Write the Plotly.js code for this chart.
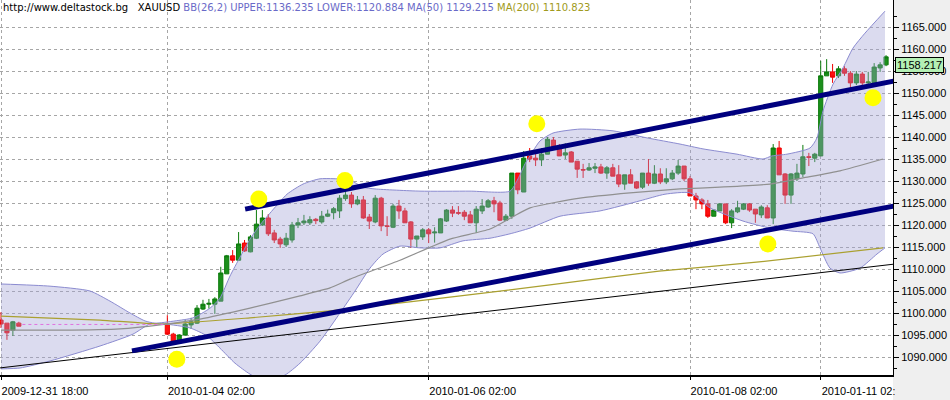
<!DOCTYPE html>
<html>
<head>
<meta charset="utf-8">
<script src="https://cdn.plot.ly/plotly-3.0.1.min.js"></script>
<style>
  html, body { margin: 0; padding: 0; background: #ffffff; }
  #chart { width: 950px; height: 400px; }
</style>
</head>
<body>
<div id="chart"></div>
<script>
// ---------- DATA ----------
// bar index (hourly bars, gaps kept as empty slots)
const barIdx = [0,1,2,3,
  28,29,30,31,32,33,34,35,36,37,
  38,39,40,41,42,43,44,45,46,47,
  48,49,50,51,52,53,54,55,56,57,
  58,59,60,61,62,63,64,65,66,67,
  68,69,70,71,72,73,74,75,76,77,
  78,79,80,81,82,83,84,85,86,87,
  88,89,90,91,92,93,94,95,96,97,
  98,99,100,101,102,103,104,105,106,107,
  108,109,110,111,112,113,114,115,116,117,
  118,119,120,121,122,123,124,125,126,127,
  128,129,130,131,132,133,134,135,136,137,
  138,139,140,141,142,143,144,145,146,147,
  148,149];

const openP = [1098.4,1097.7,1096.1,1097.7,
  1097.5,1095.2,1093.2,1095.0,1097.3,1097.7,1100.9,1102.0,1102.0,1102.7,
  1108.9,1113.0,1112.0,1115.9,1113.9,1117.0,1120.0,1121.6,1118.2,1116.8,
  1115.5,1116.6,1120.0,1120.5,1120.5,1121.3,1120.7,1122.0,1122.8,1123.2,
  1126.0,1126.8,1124.8,1125.7,1121.8,1120.7,1126.1,1119.8,1119.5,1124.3,
  1123.2,1120.7,1116.8,1117.3,1118.9,1118.2,1118.2,1120.9,1123.4,1122.8,
  1122.9,1122.3,1120.5,1123.2,1124.1,1125.5,1125.0,1121.1,1122.0,1131.8,
  1127.5,1135.7,1135.2,1134.8,1136.1,1139.3,1138.0,1135.9,1136.6,1134.5,
  1132.6,1132.5,1132.9,1133.2,1131.8,1133.0,1131.4,1129.3,1131.4,1129.8,
  1128.6,1131.8,1129.5,1131.6,1129.8,1130.5,1131.8,1133.4,1130.5,1126.6,
  1125.7,1124.8,1122.0,1123.2,1124.8,1120.5,1123.0,1123.6,1124.8,1123.6,
  1122.3,1123.9,1121.6,1137.5,1131.6,1126.8,1130.5,1131.6,1135.5,1135.2,
  1135.7,1153.9,1154.8,1153.9,1155.5,1154.5,1152.3,1154.3,1152.3,1152.3,
  1155.7,1156.4];

const highP = [1100.2,1097.7,1098.2,1098.0,
  1099.5,1095.5,1095.2,1098.4,1098.9,1101.8,1103.0,1103.2,1103.6,1110.5,
  1113.2,1114.3,1118.4,1116.6,1117.7,1123.4,1123.4,1122.5,1118.9,1117.3,
  1118.2,1120.7,1121.6,1122.3,1122.0,1121.6,1123.2,1123.5,1124.1,1126.8,
  1127.7,1127.5,1126.6,1126.6,1122.5,1126.8,1126.4,1122.0,1124.8,1125.7,
  1123.9,1120.9,1117.5,1119.3,1119.3,1119.5,1121.6,1123.6,1124.3,1124.3,
  1123.4,1123.2,1124.3,1125.9,1125.9,1126.4,1125.5,1122.5,1131.8,1131.8,
  1136.8,1137.5,1136.8,1137.5,1140.0,1140.0,1138.4,1138.6,1136.8,1134.5,
  1133.9,1134.1,1134.1,1133.9,1133.4,1133.9,1133.6,1131.4,1132.7,1130.0,
  1131.8,1135.0,1133.6,1132.9,1132.9,1132.5,1134.8,1133.4,1131.1,1127.3,
  1126.1,1125.7,1123.6,1125.0,1124.8,1123.6,1125.5,1125.0,1125.0,1123.6,
  1124.5,1124.5,1138.4,1139.1,1131.8,1131.8,1133.9,1138.2,1136.4,1136.4,
  1157.3,1157.7,1156.6,1156.1,1156.1,1155.0,1155.0,1154.8,1154.8,1156.8,
  1157.0,1158.6];

const lowP = [1096.6,1093.9,1094.8,1097.0,
  1095.0,1093.0,1093.0,1094.8,1096.4,1097.5,1100.7,1101.0,1099.8,1102.7,
  1108.9,1111.4,1111.9,1113.9,1113.8,1116.8,1119.8,1117.5,1115.9,1114.8,
  1115.0,1116.0,1119.3,1120.0,1120.0,1120.2,1120.3,1121.8,1121.3,1121.6,
  1125.5,1123.9,1124.5,1121.4,1119.1,1120.4,1118.6,1117.5,1119.3,1121.4,
  1120.5,1114.8,1114.8,1116.6,1115.9,1116.0,1118.2,1120.7,1121.8,1122.3,
  1121.1,1120.5,1118.2,1122.5,1123.9,1122.9,1120.9,1120.9,1121.4,1127.0,
  1127.5,1134.3,1133.4,1133.4,1136.1,1137.5,1135.7,1135.0,1134.3,1130.7,
  1130.7,1132.3,1131.8,1131.6,1130.5,1131.1,1128.6,1128.0,1129.5,1128.2,
  1128.2,1128.9,1129.3,1129.3,1129.3,1130.2,1131.4,1130.0,1126.6,1123.6,
  1123.6,1121.6,1122.0,1123.2,1120.2,1119.3,1122.7,1123.4,1123.0,1120.5,
  1121.6,1121.6,1120.2,1131.4,1124.8,1124.8,1130.0,1130.9,1133.4,1134.3,
  1135.7,1153.9,1152.3,1153.4,1153.9,1151.1,1151.8,1151.8,1151.8,1152.3,
  1154.8,1156.1];

const closeP = [1097.5,1095.5,1098.0,1097.0,
  1095.2,1093.4,1095.0,1097.5,1098.0,1101.1,1102.0,1102.2,1103.2,1109.1,
  1113.0,1112.0,1115.7,1114.1,1117.3,1120.2,1121.6,1118.0,1116.6,1115.7,
  1117.0,1120.0,1120.5,1120.9,1121.2,1121.0,1122.0,1122.5,1123.7,1126.1,
  1126.8,1124.8,1125.7,1121.6,1120.9,1126.1,1119.8,1119.7,1124.3,1123.2,
  1120.5,1116.8,1117.5,1118.9,1118.0,1118.4,1121.4,1123.4,1122.7,1122.7,
  1122.0,1120.5,1123.6,1124.3,1125.5,1124.8,1121.1,1122.0,1131.8,1128.0,
  1135.2,1135.0,1134.8,1136.1,1139.5,1137.7,1135.7,1136.4,1134.3,1132.7,
  1132.5,1133.0,1133.2,1131.8,1133.0,1131.1,1129.3,1131.4,1129.5,1128.4,
  1131.8,1129.5,1131.6,1129.8,1130.5,1131.8,1133.4,1130.5,1126.6,1125.7,
  1124.8,1122.0,1123.4,1124.8,1120.5,1123.2,1123.9,1124.8,1123.4,1122.5,
  1124.1,1121.6,1137.5,1131.4,1126.8,1131.6,1131.8,1135.5,1135.4,1136.1,
  1153.9,1154.8,1153.6,1155.5,1154.5,1152.3,1154.3,1152.3,1152.5,1155.9,
  1156.4,1158.217];

// Bollinger band (26,2) edges
const bbUpperX = [0,8.25,14.98,18.35,21.72,24.24,25.93,29.29,32.32,35.19,36.87,38.55,40.24,41.92,43.6,45.29,48.15,50.84,53.7,58.75,60.94,62.96,70.54,78.96,85.69,87.04,88.22,89.56,90.74,92.93,97.47,103.03,108.75,114.31,118.18,123.91,128.28,129.8,132.32,136.2,137.37,138.38,140.07,141.75,143.43,145.45,148.82];
const bbUpper  = [1106.6,1106.1,1105.0,1102.7,1100.0,1098.2,1097.7,1098.2,1098.9,1101.1,1103.4,1108.4,1112.7,1116.8,1120.0,1122.7,1127.0,1129.3,1130.5,1130.2,1128.6,1128.2,1127.7,1127.7,1127.7,1130.5,1133.9,1136.8,1139.1,1140.9,1141.8,1141.4,1139.8,1138.4,1137.3,1136.1,1135.0,1135.7,1136.1,1137.5,1139.8,1145.9,1152.0,1155.7,1160.2,1163.6,1168.6];
const bbLowerX = [0,3.2,8.25,16.67,22.22,25.08,27.61,31.82,34.68,36.87,39.39,41.92,44.44,47.81,50.34,53.7,57.07,59.6,62.12,64.31,67.17,70.54,73.91,77.78,82.32,85.69,89.06,94.11,100.84,107.58,111.78,116.0,119.36,124.92,129.46,133.33,136.7,137.88,139.56,141.25,144.61,147.47,148.82];
const bbLower  = [1087.3,1087.5,1089.1,1092.5,1095.2,1097.5,1097.5,1096.6,1094.8,1092.0,1088.6,1086.1,1084.5,1085.9,1088.6,1093.6,1100.0,1105.0,1110.2,1113.4,1115.2,1114.8,1114.8,1116.4,1117.0,1118.0,1119.3,1122.0,1123.2,1125.5,1127.0,1127.3,1123.9,1120.9,1119.3,1118.6,1118.0,1114.8,1110.2,1109.1,1110.2,1113.4,1114.8];

// Moving averages
const ma50X = [0,9.93,20.03,26.77,33.5,41.92,50.34,55.39,58.75,67.17,75.59,82.32,89.06,97.47,105.89,114.31,121.04,129.46,135.02,141.25,148.48];
const ma50  = [1096.1,1096.1,1096.4,1097.3,1098.6,1101.1,1103.9,1105.7,1107.7,1112.0,1116.8,1119.1,1123.9,1126.1,1127.3,1128.2,1128.6,1129.3,1130.7,1132.3,1135.0];
const ma200X = [0,16.67,26.77,41.92,55.39,75.59,92.42,110.77,127.61,148.48];
const ma200  = [1099.3,1098.4,1097.5,1098.9,1100.5,1103.6,1106.4,1109.5,1111.6,1114.8];

// holiday gap line (last close carried)
const gapX = [3.6, 27.6];
const gapY = [1097.4, 1097.4];

// hand-drawn trend lines
const chanUpX = [41.1, 150.3],  chanUpY = [1123.6, 1152.7];
const chanLoX = [22.05, 150.3], chanLoY = [1091.4, 1124.3];
const baseX   = [-0.3, 150.3],  baseY   = [1087.5, 1111.1];

// yellow highlight spots
const spotX = [29.6, 43.4, 57.9, 90.2, 129.1, 146.8];
const spotY = [1089.5, 1125.9, 1130.1, 1143.0, 1115.7, 1148.9];

// axis labels
const xTickIdx = [0, 28, 72, 116, 138];
const xTickText = ["2009-12-31 18:00", "2010-01-04 02:00", "2010-01-06 02:00", "2010-01-08 02:00", "2010-01-11 02:00"];
const yTickVals = [1090,1095,1100,1105,1110,1115,1120,1125,1130,1135,1140,1145,1150,1155,1160,1165];
const lastPrice = 1158.217;
const headerSite = "http://www.deltastock.bg";
const headerSym = "XAUUSD";
const headerBB = "BB(26,2) UPPER:1136.235 LOWER:1120.884 MA(50) 1129.215";
const headerMA = "MA(200) 1110.823";

// ---------- CHART ----------
const narrow = "'Liberation Sans', Arial, sans-serif";

const traces = [
  { type: 'scatter', mode: 'lines', x: bbLowerX, y: bbLower,
    line: { color: '#8b8bd0', width: 1, shape: 'spline', smoothing: 0.6 }, hoverinfo: 'skip' },
  { type: 'scatter', mode: 'lines', x: bbUpperX, y: bbUpper, fill: 'tonexty',
    fillcolor: 'rgba(160,160,212,0.38)',
    line: { color: '#8b8bd0', width: 1, shape: 'spline', smoothing: 0.6 }, hoverinfo: 'skip' },
  { type: 'scatter', mode: 'lines', x: ma200X, y: ma200,
    line: { color: '#aaa030', width: 1.2, shape: 'spline', smoothing: 0.5 }, hoverinfo: 'skip' },
  { type: 'scatter', mode: 'lines', x: ma50X, y: ma50,
    line: { color: '#909090', width: 1.2, shape: 'spline', smoothing: 0.5 }, hoverinfo: 'skip' },
  { type: 'scatter', mode: 'lines', x: gapX, y: gapY,
    line: { color: '#e070e0', width: 1, dash: '3px,3px' }, hoverinfo: 'skip' },
  { type: 'scatter', mode: 'lines', x: baseX, y: baseY,
    line: { color: '#000000', width: 1 }, hoverinfo: 'skip' },
  { type: 'candlestick', x: barIdx, open: openP, high: highP, low: lowP, close: closeP,
    increasing: { line: { color: '#0a7a0a', width: 1 }, fillcolor: '#1c901c' },
    decreasing: { line: { color: '#ee0000', width: 1 }, fillcolor: '#ff1010' },
    whiskerwidth: 0, hoverinfo: 'skip' },
  { type: 'scatter', mode: 'lines', x: chanUpX, y: chanUpY,
    line: { color: '#00007f', width: 5 }, hoverinfo: 'skip' },
  { type: 'scatter', mode: 'lines', x: chanLoX, y: chanLoY,
    line: { color: '#00007f', width: 5 }, hoverinfo: 'skip' },
  { type: 'scatter', mode: 'markers', x: spotX, y: spotY,
    marker: { color: '#ffff00', size: 17, line: { width: 0 } }, hoverinfo: 'skip' }
];

const layout = {
  width: 950, height: 400,
  margin: { l: 0, r: 57, t: 0, b: 25, pad: 0 },
  paper_bgcolor: '#ffffff', plot_bgcolor: '#ffffff',
  showlegend: false,
  boxgap: 0.3, boxgroupgap: 0,
  xaxis: {
    range: [-0.17, 150.17], autorange: false,
    tickmode: 'array', tickvals: xTickIdx, ticktext: xTickText,
    showgrid: true, gridcolor: '#a6a6a6', griddash: 'dot', gridwidth: 1,
    showline: true, linecolor: '#000000', linewidth: 1.5,
    ticks: 'outside', ticklen: 3, tickcolor: '#000000',
    ticklabelshift: 44, ticklabelstandoff: 2, ticklabeloverflow: 'allow',
    tickfont: { family: narrow, size: 11, color: '#000000' },
    zeroline: false, rangeslider: { visible: false }, fixedrange: true, automargin: false
  },
  yaxis: {
    side: 'right', range: [1085.91, 1171.14], autorange: false,
    tickmode: 'array', tickvals: yTickVals, tickformat: '.3f',
    showgrid: true, gridcolor: '#a6a6a6', griddash: 'dot', gridwidth: 1,
    showline: true, linecolor: '#000000', linewidth: 1,
    ticks: 'outside', ticklen: 5, tickcolor: '#000000',
    minor: { tickmode: 'linear', tick0: 1087.5, dtick: 5, ticks: 'outside', ticklen: 3, tickcolor: '#000000', showgrid: false },
    tickfont: { family: narrow, size: 11, color: '#000000' },
    zeroline: false, fixedrange: true, automargin: false
  },
  shapes: [
    { type: 'rect', xref: 'paper', yref: 'paper', x0: 1.0, x1: 1.08, y0: -0.08, y1: 1.0,
      fillcolor: '#efefef', line: { width: 0 }, layer: 'below' },
    { type: 'rect', xref: 'paper', yref: 'paper', x0: 1.002, x1: 1.08, y0: -0.08, y1: -0.003,
      fillcolor: '#efefef', line: { width: 0 }, layer: 'above' }
  ],
  annotations: [
    { xref: 'paper', yref: 'paper', x: 0, y: 1, xanchor: 'left', yanchor: 'top',
      xshift: 1, yshift: 0, showarrow: false, align: 'left',
      text: headerSite + '&nbsp;&nbsp;&nbsp;' + headerSym + ' <span style="color:#6a6ac8">' + headerBB +
            '</span> <span style="color:#a09a20">' + headerMA + '</span>',
      font: { family: "'DejaVu Sans', Verdana, sans-serif", size: 10, color: '#000000' } },
    { xref: 'paper', yref: 'y', x: 1, y: lastPrice, xanchor: 'left', yanchor: 'top',
      xshift: 2, showarrow: false, text: lastPrice.toFixed(3),
      bgcolor: '#b4f0b4', bordercolor: '#000000', borderwidth: 1, borderpad: 1,
      font: { family: narrow, size: 11, color: '#000000' } }
  ]
};

Plotly.newPlot('chart', traces, layout, { displayModeBar: false, staticPlot: true });
</script>
</body>
</html>
